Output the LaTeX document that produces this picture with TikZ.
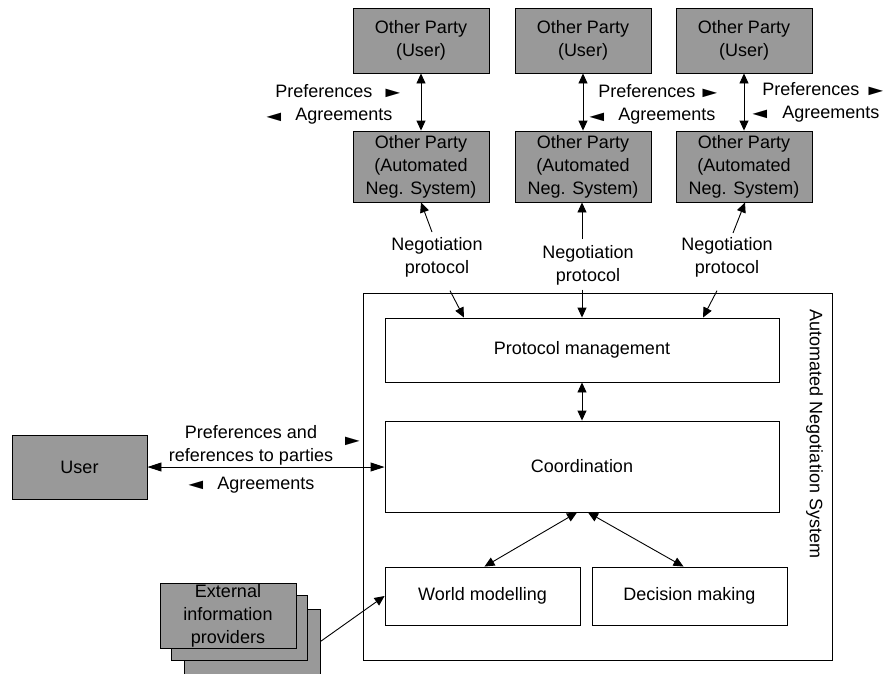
\documentclass[tikz,border=0pt]{standalone}
\usepackage{fontspec}
\usepackage{graphicx}
\setmainfont{Liberation Sans}
\usetikzlibrary{arrows.meta}
\definecolor{boxgray}{RGB}{153,153,153}
% flat pointer glyphs used beside the flow labels (zero width, centred on the node)
\newcommand{\ptrright}{\makebox[0pt]{\scalebox{1.35}[0.8]{►}}}
\newcommand{\ptrleft}{\makebox[0pt]{\scalebox{1.35}[0.8]{◄}}}

\begin{document}
\begin{tikzpicture}[x=1pt,y=-1pt,line width=0.9pt,
  every node/.style={font=\fontsize{18}{23}\selectfont},
  graybox/.style={draw,fill=boxgray,minimum width=136pt,minimum height=65pt,inner sep=0pt,align=center},
  whitebox/.style={draw,fill=white,inner sep=0pt,align=center},
  lbl/.style={inner sep=0pt,align=center},
  wlbl/.style={inner sep=0pt,anchor=mid west},
  ptr/.style={inner sep=0pt},
  arr/.style={-{Triangle[length=10pt,width=9pt]}},
  darr/.style={{Triangle[length=10pt,width=9pt]}-{Triangle[length=10pt,width=9pt]}},
  hdarr/.style={{Triangle[length=14pt,width=9pt]}-{Triangle[length=14pt,width=9pt]}}
]
\useasboundingbox (0,0) rectangle (887,673);

% Automated negotiation system frame
\draw (363,293) rectangle (832,660);
\node[lbl,rotate=-90,anchor=mid] (anstitle) at (812.5,434) {Automated Negotiation System};

% Other parties: users and their automated systems
\node[graybox] (u1) at (421,40.5) {Other Party\\(User)};
\node[graybox] (u2) at (583,40.5) {Other Party\\(User)};
\node[graybox] (u3) at (744,40.5) {Other Party\\(User)};
\node[graybox,minimum height=71pt] (a1) at (421,166.5) {Other Party\\(Automated\\Neg. System)};
\node[graybox,minimum height=71pt] (a2) at (583,166.5) {Other Party\\(Automated\\Neg. System)};
\node[graybox,minimum height=71pt] (a3) at (744,166.5) {Other Party\\(Automated\\Neg. System)};

\draw[darr] (u1.south) -- (a1.north);
\draw[darr] (u2.south) -- (a2.north);
\draw[darr] (u3.south) -- (a3.north);

% flow labels between each user and its negotiation system
\node[wlbl] (pr1) at (275,94.5) {Preferences};
\node[ptr] (pr1t) at (393,93.5) {\ptrright};
\node[ptr] (ag1t) at (274,117) {\ptrleft};
\node[wlbl] (ag1) at (295,118) {Agreements};

\node[wlbl] (pr2) at (598,94.5) {Preferences};
\node[ptr] (pr2t) at (710,93.5) {\ptrright};
\node[ptr] (ag2t) at (597,117) {\ptrleft};
\node[wlbl] (ag2) at (618,118) {Agreements};

\node[wlbl] (pr3) at (762,92.5) {Preferences};
\node[ptr] (pr3t) at (876,91.5) {\ptrright};
\node[ptr] (ag3t) at (760,114.5) {\ptrleft};
\node[wlbl] (ag3) at (782,115.5) {Agreements};

% Internal components
\node[whitebox,minimum width=394pt,minimum height=64pt] (pm) at (582,350) {Protocol management};
\node[whitebox,minimum width=394pt,minimum height=91pt] (co) at (582,466.5) {Coordination};
\node[whitebox,minimum width=195pt,minimum height=58pt] (wm) at (482.5,596) {World modelling};
\node[whitebox,minimum width=195pt,minimum height=58pt] (dm) at (689.5,596) {Decision making};

% Negotiation protocol links
\node[lbl,anchor=north] (np1) at (437,237) {Negotiation\\protocol};
\node[lbl,anchor=north] (np2) at (588,245) {Negotiation\\protocol};
\node[lbl,anchor=north] (np3) at (727,237) {Negotiation\\protocol};

\draw[arr] ([shift={(-5,-5)}]np1.north) -- (a1.south);
\draw[arr] ([shift={(13,13)}]np1.south) -- ([shift={(-118,0)}]pm.north);
\draw[arr] ([shift={(-6,-6)}]np2.north) -- ([shift={(-1,0)}]a2.south);
\draw[arr] ([shift={(-6,4)}]np2.south) -- (pm.north);
\draw[arr] ([shift={(6,-4)}]np3.north) -- ([shift={(1,0)}]a3.south);
\draw[arr] ([shift={(-10,13)}]np3.south) -- ([shift={(121,0)}]pm.north);

\draw[darr] (pm.south) -- (co.north);
\draw[darr] ([shift={(-5,0)}]co.south) -- ([shift={(2,0)}]wm.north);
\draw[darr] ([shift={(6,0)}]co.south) -- ([shift={(-6,0)}]dm.north);

% User
\node[graybox,minimum width=135pt,minimum height=64pt] (user) at (79.5,467) {User};
\draw[hdarr] (user.east) -- (co.west |- user.east);
\node[lbl,anchor=north] (pr0) at (251,425) {Preferences and\\references to parties};
\node[ptr] (pr0t) at (352.5,441.5) {\ptrright};
\node[ptr] (ag0t) at (196,485.5) {\ptrleft};
\node[wlbl] (ag0) at (217,486.5) {Agreements};

% External information providers (stacked)
\node[graybox] (ext3) at (252,641.5) {};
\node[graybox] (ext2) at (239.5,628) {};
\node[graybox] (ext1) at (228,615.5) {External\\information\\providers};
\draw[arr] (ext3.east) -- (wm.west);

\end{tikzpicture}
\end{document}
